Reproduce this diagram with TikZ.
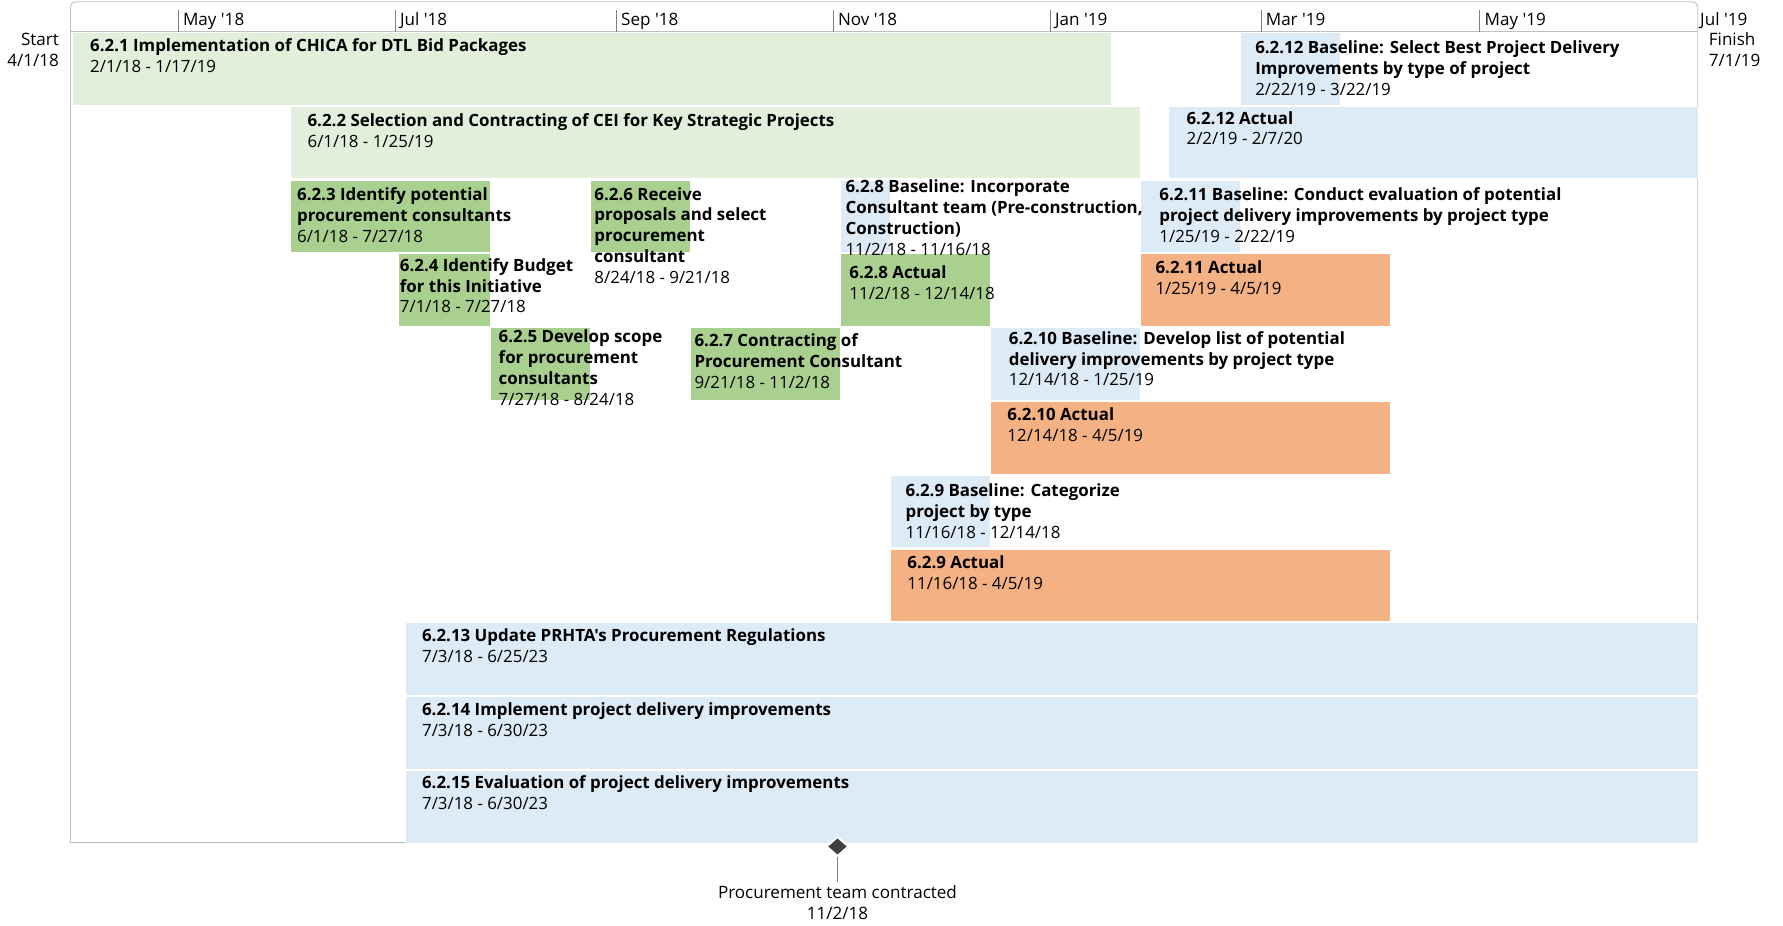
\documentclass[tikz,border=0pt]{standalone}
\usepackage{fontspec}
\setmainfont{Open Sans}[Ligatures=TeXOff]
\usetikzlibrary{shapes.geometric}
\definecolor{lgreen}{HTML}{E2EFDA}
\definecolor{mgreen}{HTML}{A9D08E}
\definecolor{lblue}{HTML}{DDEBF7}
\definecolor{orng}{HTML}{F4B183}
\definecolor{framegray}{HTML}{BFBFBF}
\definecolor{tickgray}{HTML}{7F7F7F}
\definecolor{msgray}{HTML}{404040}
\newcommand\gbar[5]{\node[taskbar, fill=#2, minimum width={#4pt-#3pt}] (#1) at (#3,{28.2+64.9*#5}) {};}
\newcommand\lbl[4]{\node[lbl] (#1) at (#2,{#3-12.81}) {\strut #4};}
\begin{document}
\begin{tikzpicture}[x=1pt,y=-1pt,
  taskbar/.style={draw=white, line width=0.6pt, anchor=north west, inner sep=0pt, minimum height=63.8pt},
  lbl/.style={anchor=north west, inner sep=0pt, align=left, font=\fontsize{14.85}{18.3}\selectfont},
  monthlbl/.style={anchor=base west, inner sep=0pt, font=\fontsize{15}{18.3}\selectfont},
  frameline/.style={draw=framegray, line width=0.8pt},
  tickline/.style={draw=tickgray, line width=0.7pt},
  msdiamond/.style={diamond, fill=msgray, draw=white, line width=1.5pt, minimum width=19.5pt, minimum height=17pt, inner sep=0pt},
  msline/.style={draw=tickgray, line width=0.8pt}]
\useasboundingbox (0,0) rectangle (1568,814);
% frame
\draw[frameline] (62,741) [rounded corners=5pt] -- (62,1.5) -- (1493,1.5) [sharp corners] -- (1493,741) -- cycle;
\draw[frameline] (62,27.9) -- (1493,27.9);
% ticks
\foreach \tx in {156.8,347.6,542.1,732.8,923.7,1109,1301.4}{\draw[tickline] (\tx,9) -- (\tx,27.9);}
\node[monthlbl] (may18) at (160.8,22) {May '18};
\node[monthlbl] (jul18) at (351.6,22) {Jul '18};
\node[monthlbl] (sep18) at (546.1,22) {Sep '18};
\node[monthlbl] (nov18) at (736.8,22) {Nov '18};
\node[monthlbl] (jan19) at (927.7,22) {Jan '19};
\node[monthlbl] (mar19) at (1113,22) {Mar '19};
\node[monthlbl] (may19) at (1305.4,22) {May '19};
\node[monthlbl] (jul19) at (1495,22) {Jul '19};
\node[anchor=north east, inner sep=0pt, align=right, font=\fontsize{15}{18.3}\selectfont] (start) at (52,{39.6-12.81}) {\strut Start\\4/1/18};
\node[anchor=north west, inner sep=0pt, align=left, font=\fontsize{15}{18.3}\selectfont] (finish) at (1502.6,{39.6-12.81}) {\strut Finish\\7/1/19};
% bars
\gbar{b1}{lgreen}{63}{977.2}{0}
\gbar{b12b}{lblue}{1090.2}{1178.1}{0}
\gbar{b2}{lgreen}{255.4}{1002.3}{1}
\gbar{b12a}{lblue}{1027.4}{1493}{1}
\gbar{b3}{mgreen}{255.4}{431.2}{2}
\gbar{b6}{mgreen}{519}{606.9}{2}
\gbar{b8b}{lblue}{738.7}{782.6}{2}
\gbar{b11b}{lblue}{1002.3}{1090.2}{2}
\gbar{b4}{mgreen}{349.6}{431.2}{3}
\gbar{b8a}{mgreen}{738.7}{870.5}{3}
\gbar{b11a}{orng}{1002.3}{1222}{3}
\gbar{b5}{mgreen}{431.2}{519}{4}
\gbar{b7}{mgreen}{606.9}{738.7}{4}
\gbar{b10b}{lblue}{870.5}{1002.3}{4}
\gbar{b10a}{orng}{870.5}{1222}{5}
\gbar{b9b}{lblue}{782.6}{870.5}{6}
\gbar{b9a}{orng}{782.6}{1222}{7}
\gbar{b13}{lblue}{355.9}{1493}{8}
\gbar{b14}{lblue}{355.9}{1493}{9}
\gbar{b15}{lblue}{355.9}{1493}{10}
% labels
\lbl{t1}{79.1}{45.4}{\textbf{6.2.1 Implementation of CHICA for DTL Bid Packages}\\2/1/18 - 1/17/19}
\lbl{t12b}{1103.7}{46.9}{\textbf{6.2.12 Baseline: Select Best Project Delivery}\\\textbf{Improvements by type of project}\\2/22/19 - 3/22/19}
\lbl{t2}{270.3}{110.8}{\textbf{6.2.2 Selection and Contracting of CEI for Key Strategic Projects}\\6/1/18 - 1/25/19}
\lbl{t12a}{1043.3}{109}{\textbf{6.2.12 Actual}\\2/2/19 - 2/7/20}
\lbl{t3}{261.1}{176.5}{\textbf{6.2.3 Identify potential}\\\textbf{procurement consultants}\\6/1/18 - 7/27/18}
\lbl{t6}{522.6}{175.8}{\textbf{6.2.6 Receive}\\\textbf{proposals and select}\\\textbf{procurement}\\\textbf{consultant}\\8/24/18 - 9/21/18}
\lbl{t8b}{743.4}{169.4}{\textbf{6.2.8 Baseline: Incorporate}\\\textbf{Consultant team (Pre-construction,}\\\textbf{Construction)}\\11/2/18 - 11/16/18}
\lbl{t11b}{1019.4}{176.5}{\textbf{6.2.11 Baseline: Conduct evaluation of potential}\\\textbf{project delivery improvements by project type}\\1/25/19 - 2/22/19}
\lbl{t4}{351.5}{238.3}{\textbf{6.2.4 Identify Budget}\\\textbf{for this Initiative}\\7/1/18 - 7/27/18}
\lbl{t8a}{746.8}{244.8}{\textbf{6.2.8 Actual}\\11/2/18 - 12/14/18}
\lbl{t11a}{1016}{240.4}{\textbf{6.2.11 Actual}\\1/25/19 - 4/5/19}
\lbl{t5}{438.4}{301.4}{\textbf{6.2.5 Develop scope}\\\textbf{for procurement}\\\textbf{consultants}\\7/27/18 - 8/24/18}
\lbl{t7}{610.6}{304.9}{\textbf{6.2.7 Contracting of}\\\textbf{Procurement Consultant}\\9/21/18 - 11/2/18}
\lbl{t10b}{887}{302.5}{\textbf{6.2.10 Baseline: Develop list of potential}\\\textbf{delivery improvements by project type}\\12/14/18 - 1/25/19}
\lbl{t10a}{885.8}{369.4}{\textbf{6.2.10 Actual}\\12/14/18 - 4/5/19}
\lbl{t9b}{796.2}{436.8}{\textbf{6.2.9 Baseline: Categorize}\\\textbf{project by type}\\11/16/18 - 12/14/18}
\lbl{t9a}{797.8}{499.8}{\textbf{6.2.9 Actual}\\11/16/18 - 4/5/19}
\lbl{t13}{371}{564.3}{\textbf{6.2.13 Update PRHTA's Procurement Regulations}\\7/3/18 - 6/25/23}
\lbl{t14}{371}{628.8}{\textbf{6.2.14 Implement project delivery improvements}\\7/3/18 - 6/30/23}
\lbl{t15}{371}{693.3}{\textbf{6.2.15 Evaluation of project delivery improvements}\\7/3/18 - 6/30/23}
% milestone
\node[msdiamond] (ms) at (736.5,744.4) {};
\coordinate (msend) at (736.5,776);
\draw[msline] (ms.south) -- (msend);
\node[anchor=north, inner sep=0pt, align=center, font=\fontsize{15}{18.3}\selectfont] (mstext) at (736.5,{790-12.81}) {\strut Procurement team contracted\\11/2/18};
\end{tikzpicture}
\end{document}
